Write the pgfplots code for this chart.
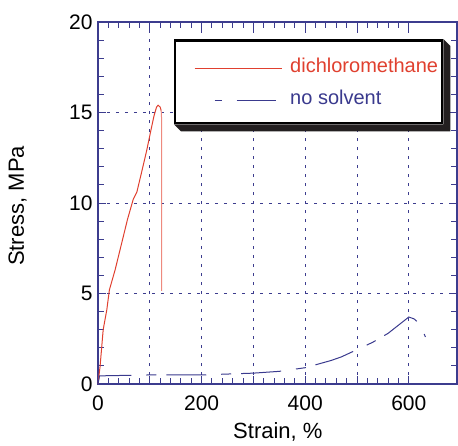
\documentclass[border=0pt]{standalone}
\usepackage{pgfplots}
\pgfplotsset{compat=1.18}
\usepackage{fontspec}
\setmainfont{Liberation Sans}
\definecolor{axblue}{HTML}{3C3C8E}
\definecolor{lred}{HTML}{E0402F}
\definecolor{lblue}{HTML}{3A3A8E}
\definecolor{lpink}{HTML}{EE8A7E}
\definecolor{shadowc}{HTML}{231F20}
\begin{document}
\begin{tikzpicture}
\begin{axis}[
 scale only axis, width=359pt, height=362pt,
 xmin=0, xmax=693, ymin=0, ymax=20,
 axis line style={axblue, line width=1.2pt},
 xtick={0,100,...,600}, xticklabels={0,,200,,400,,600},
 minor x tick num=4,
 ytick={0,5,...,20}, minor y tick num=4,
 tick pos=both,
 tick style={axblue, line width=1pt},
 major tick length=8pt, minor tick length=6pt,
 tick align=inside,
 xmajorgrids, ymajorgrids,
 major grid style={axblue, line width=0.9pt, dash pattern=on 3pt off 6pt},
 ticklabel style={font=\fontsize{21}{24}\selectfont},
 xticklabel style={yshift=-8pt},
 yticklabel style={xshift=-2pt},
 /pgf/number format/assume math mode=true,
 xlabel={Strain, \%}, ylabel={Stress, MPa},
 label style={font=\fontsize{22}{26}\selectfont},
 xlabel style={at={(axis description cs:0.501,-0.150)}, anchor=base},
 ylabel style={at={(axis description cs:-0.224,0.492)}, anchor=center},
 legend cell align=left,
 legend style={name=leg, at={(rel axis cs:0.2117,0.953)}, anchor=north west,
   draw=black, line width=2.5pt, fill=white,
   inner xsep=4pt, inner ysep=17.5pt,
   font=\fontsize{20}{24}\selectfont,
   nodes={inner sep=0pt, anchor=base west},
   column sep=8pt, row sep=16pt},
]
\addplot[lred, line width=1pt, legend image code/.code={\path (0pt,0.35em); \draw[lred, line width=1pt] (15pt,0.35em) -- (102pt,0.35em);}] coordinates {
(0,0) (4,0.97) (10,3.0) (17,4.1) (22,5.2) (33,6.3) (45,7.7) (57,9.1) (68,10.2) (75,10.6) (85,11.8) (94,12.9) (102,14.0) (108,14.8) (113,15.3) (116,15.4) (120,15.3) (122,15.1)
};
\addlegendentry{\textcolor{lred}{dichloromethane}}
\addplot[lblue, line width=1pt, dash pattern=on 40pt off 15pt on 10pt off 10pt,
 legend image code/.code={\path (0pt,0.35em); \draw[lblue, line width=1pt, solid] (35pt,0.35em) -- (42pt,0.35em) (57pt,0.35em) -- (96pt,0.35em);}] coordinates {
(0,0) (3,0.45) (100,0.5) (200,0.5) (300,0.6) (350,0.7) (400,0.9) (450,1.3) (470,1.5) (500,1.9) (530,2.3) (560,2.8) (600,3.7) (610,3.6) (622,3.3) (632,2.6)
};
\addlegendentry{\textcolor{lblue}{no solvent}}
\addplot[lpink, line width=1pt, forget plot] coordinates {(122,15.1) (123,14.5) (123,5.15)};
\end{axis}
\fill[shadowc] (leg.north east) -- ([shift={(7pt,-7pt)}]leg.north east) -- ([shift={(7pt,-7pt)}]leg.south east) -- ([shift={(7pt,-7pt)}]leg.south west) -- (leg.south west) -- (leg.south east) -- cycle;
\pgfresetboundingbox
\useasboundingbox ([shift={(-98pt,-61pt)}]current axis.south west) rectangle ([shift={(1pt,22pt)}]current axis.north east);
\end{tikzpicture}
\end{document}
